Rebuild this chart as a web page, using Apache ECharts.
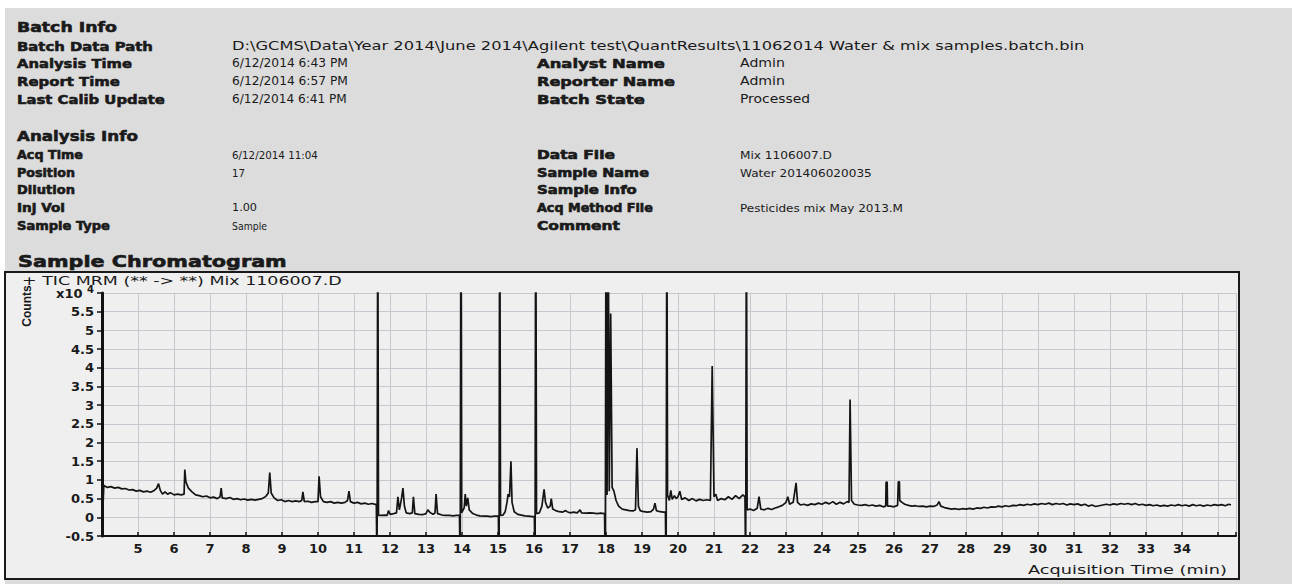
<!DOCTYPE html>
<html>
<head>
<meta charset="utf-8">
<script src="https://cdn.jsdelivr.net/npm/echarts@6/dist/echarts.min.js"></script>
<style>
html,body{margin:0;padding:0;background:#ffffff;}
#chart{width:1292px;height:584px;}
</style>
</head>
<body>
<div id="chart"></div>
<script>
// ---------- Report text ----------
const batchTitle = 'Batch Info';
const batchFieldNames = ['Batch Data Path', 'Analysis Time', 'Report Time', 'Last Calib Update'];
const batchFieldValues = ['D:\\GCMS\\Data\\Year 2014\\June 2014\\Agilent test\\QuantResults\\11062014 Water & mix samples.batch.bin',
  '6/12/2014 6:43 PM', '6/12/2014 6:57 PM', '6/12/2014 6:41 PM'];
const batchFieldNames2 = ['Analyst Name', 'Reporter Name', 'Batch State'];
const batchFieldValues2 = ['Admin', 'Admin', 'Processed'];
const analysisTitle = 'Analysis Info';
const analysisFieldNames = ['Acq Time', 'Position', 'Dilution', 'Inj Vol', 'Sample Type'];
const analysisFieldValues = ['6/12/2014 11:04', '17', '', '1.00', 'Sample'];
const analysisFieldNames2 = ['Data File', 'Sample Name', 'Sample Info', 'Acq Method File', 'Comment'];
const analysisFieldValues2 = ['Mix 1106007.D', 'Water 201406020035', '', 'Pesticides mix May 2013.M', ''];
const chromTitle = 'Sample Chromatogram';
const traceTitle = '+ TIC MRM (** -> **) Mix 1106007.D';
const yAxisName = 'Counts';
const yExponentBase = 'x10';
const yExponent = '4';
const xAxisName = 'Acquisition Time (min)';

// ---------- Chromatogram trace: [time (min), counts (x10^4)] ----------
const segment1 = [[4.00,0.05],[4.02,0.10],[4.05,0.85],[4.15,0.80],[4.25,0.82],[4.35,0.78],[4.45,0.80],[4.55,0.76],
  [4.65,0.77],[4.75,0.73],[4.85,0.74],[4.95,0.70],[5.05,0.72],[5.15,0.68],[5.25,0.70],[5.35,0.67],[5.45,0.72],
  [5.52,0.78],[5.57,0.90],[5.62,0.72],[5.68,0.62],[5.75,0.68],[5.82,0.62],[5.90,0.66],[6.00,0.60],[6.10,0.62],
  [6.20,0.60],[6.28,0.62],[6.30,1.28],[6.33,0.95],[6.40,0.78],[6.50,0.68],[6.60,0.60],[6.70,0.58],[6.80,0.55],
  [6.90,0.57],[7.00,0.52],[7.10,0.54],[7.20,0.50],[7.28,0.55],[7.31,0.78],[7.34,0.52],[7.45,0.50],[7.55,0.53],
  [7.65,0.48],[7.75,0.50],[7.85,0.47],[7.95,0.49],[8.05,0.46],[8.15,0.48],[8.25,0.46],[8.35,0.48],[8.45,0.50],
  [8.55,0.56],[8.62,0.65],[8.66,1.20],[8.70,0.65],[8.78,0.52],[8.88,0.45],[8.98,0.47],[9.08,0.42],[9.18,0.45],
  [9.28,0.42],[9.38,0.44],[9.48,0.42],[9.55,0.45],[9.58,0.68],[9.62,0.42],[9.72,0.43],[9.82,0.40],[9.92,0.42],
  [10.00,0.42],[10.03,1.10],[10.07,0.55],[10.15,0.42],[10.25,0.40],[10.35,0.42],[10.45,0.38],[10.55,0.40],
  [10.65,0.38],[10.75,0.40],[10.82,0.45],[10.86,0.70],[10.90,0.42],[11.00,0.38],[11.10,0.40],[11.20,0.36],
  [11.30,0.38],[11.40,0.35],[11.50,0.37],[11.62,0.34],[11.64,-1.5],[11.66,9.0]];
const segment2 = [[11.68,0.05],[11.75,0.05],[11.85,0.06],[11.92,0.05],[11.96,0.18],[12.00,0.08],[12.10,0.10],
  [12.18,0.12],[12.22,0.55],[12.26,0.20],[12.32,0.50],[12.36,0.78],[12.40,0.30],[12.45,0.12],[12.55,0.10],
  [12.62,0.12],[12.65,0.55],[12.69,0.10],[12.80,0.08],[12.90,0.07],[13.00,0.10],[13.05,0.20],[13.12,0.12],
  [13.20,0.08],[13.25,0.12],[13.28,0.62],[13.32,0.10],[13.45,0.06],[13.55,0.05],[13.65,0.05],[13.75,0.04],
  [13.85,0.05],[13.93,0.05],[13.95,-1.5],[13.97,9.0]];
const segment3 = [[13.99,0.12],[14.06,0.25],[14.09,0.62],[14.12,0.30],[14.16,0.52],[14.20,0.20],[14.30,0.10],
  [14.40,0.06],[14.50,0.04],[14.60,0.03],[14.70,0.03],[14.80,0.02],[14.90,0.03],[15.01,0.03],[15.03,-1.5],[15.05,9.0]];
const segment4 = [[15.07,0.05],[15.14,0.06],[15.20,0.15],[15.25,0.40],[15.28,0.62],[15.32,0.55],[15.36,1.50],
  [15.39,0.40],[15.45,0.15],[15.55,0.08],[15.65,0.06],[15.75,0.04],[15.85,0.03],[15.95,0.02],[16.01,0.02],
  [16.03,-1.5],[16.05,9.0]];
const segment5 = [[16.07,0.10],[16.15,0.12],[16.22,0.30],[16.28,0.75],[16.32,0.40],[16.38,0.25],[16.45,0.30],
  [16.48,0.50],[16.52,0.22],[16.60,0.18],[16.70,0.15],[16.80,0.14],[16.88,0.18],[16.92,0.15],[17.00,0.12],
  [17.10,0.14],[17.20,0.12],[17.28,0.20],[17.32,0.12],[17.45,0.11],[17.55,0.12],[17.65,0.11],[17.75,0.10],
  [17.85,0.11],[17.96,0.10],[17.98,-1.5],[18.00,9.0],[18.03,0.60],[18.06,9.0],[18.09,0.70],[18.13,5.45],
  [18.17,0.80],[18.22,0.70],[18.28,0.45],[18.35,0.30],[18.45,0.22],[18.55,0.20],[18.65,0.18],[18.75,0.17],
  [18.82,0.20],[18.86,1.85],[18.90,0.30],[18.95,0.18],[19.05,0.15],[19.15,0.14],[19.25,0.15],[19.32,0.22],
  [19.36,0.38],[19.40,0.18],[19.50,0.15],[19.60,0.14],[19.65,0.14],[19.67,-1.5],[19.69,9.0]];
const segment6 = [[19.71,0.60],[19.76,0.45],[19.80,0.72],[19.84,0.48],[19.90,0.58],[19.95,0.50],[20.00,0.55],
  [20.05,0.70],[20.10,0.48],[20.20,0.52],[20.30,0.45],[20.40,0.50],[20.50,0.44],[20.60,0.48],[20.70,0.45],
  [20.80,0.47],[20.90,0.45],[20.95,4.05],[21.00,0.55],[21.05,0.62],[21.10,0.45],[21.20,0.50],[21.30,0.47],
  [21.40,0.55],[21.50,0.48],[21.60,0.58],[21.70,0.50],[21.80,0.60],[21.86,0.55],[21.88,-1.5],[21.90,9.0]];
const segment7 = [[21.92,0.20],[22.00,0.22],[22.10,0.18],[22.20,0.24],[22.25,0.55],[22.30,0.22],[22.40,0.20],
  [22.50,0.24],[22.60,0.21],[22.70,0.25],[22.80,0.28],[22.90,0.32],[23.00,0.40],[23.05,0.55],[23.10,0.35],
  [23.20,0.40],[23.28,0.92],[23.32,0.40],[23.40,0.33],[23.50,0.35],[23.60,0.32],[23.70,0.36],[23.80,0.34],
  [23.90,0.38],[24.00,0.35],[24.10,0.40],[24.20,0.36],[24.30,0.42],[24.40,0.35],[24.50,0.40],[24.60,0.36],
  [24.70,0.42],[24.75,0.40],[24.78,3.15],[24.82,0.45],[24.90,0.35],[25.00,0.33],[25.10,0.32],[25.20,0.34],
  [25.30,0.31],[25.40,0.33],[25.50,0.30],[25.60,0.32],[25.70,0.28],[25.77,0.30],[25.78,0.94],[25.81,0.94],
  [25.82,0.30],[25.90,0.30],[26.00,0.28],[26.10,0.32],[26.12,0.95],[26.15,0.95],[26.16,0.45],[26.22,0.40],
  [26.30,0.35],[26.40,0.32],[26.50,0.30],[26.60,0.31],[26.70,0.29],[26.80,0.30],[26.90,0.28],[27.00,0.30],
  [27.10,0.29],[27.20,0.33],[27.25,0.42],[27.30,0.30],[27.40,0.26],[27.50,0.24],[27.60,0.22],[27.70,0.23],
  [27.80,0.21],[27.90,0.23],[28.00,0.22],[28.10,0.24],[28.20,0.22],[28.30,0.25],[28.40,0.24],[28.50,0.27],
  [28.60,0.25],[28.70,0.28],[28.80,0.27],[28.90,0.30],[29.00,0.28],[29.10,0.31],[29.20,0.29],[29.30,0.32],
  [29.40,0.31],[29.50,0.34],[29.60,0.32],[29.70,0.35],[29.80,0.33],[29.90,0.36],[30.00,0.34]];
const segment8 = [[30.10,0.37],[30.20,0.35],[30.30,0.38],[30.40,0.34],[30.50,0.37],[30.60,0.35],[30.70,0.37],
  [30.80,0.33],[30.90,0.36],[31.00,0.34],[31.10,0.36],[31.20,0.32],[31.30,0.35],[31.40,0.30],[31.50,0.33],
  [31.60,0.29],[31.70,0.31],[31.80,0.33],[31.90,0.35],[32.00,0.33],[32.10,0.36],[32.20,0.34],[32.30,0.37],
  [32.40,0.35],[32.50,0.37],[32.60,0.34],[32.70,0.37],[32.80,0.33],[32.90,0.35],[33.00,0.32],[33.10,0.34],
  [33.20,0.31],[33.30,0.33],[33.40,0.30],[33.50,0.32],[33.60,0.30],[33.70,0.33],[33.80,0.31],[33.90,0.34],
  [34.00,0.31],[34.10,0.33],[34.20,0.30],[34.30,0.34],[34.40,0.31],[34.50,0.33],[34.60,0.30],[34.70,0.33],
  [34.80,0.31],[34.90,0.34],[35.00,0.32],[35.10,0.34],[35.20,0.31],[35.30,0.35],[35.36,0.33]];

// ---------- Layout (positions / sizes / styles) ----------
const FONT = '"DejaVu Sans", Verdana, sans-serif';
const INK = '#1a1a1a';
const canvas = document.createElement('canvas');
const ctx = canvas.getContext('2d');
function fitText(txt, left, right, cy, size, weight) {
  if (!txt) return null;
  ctx.font = weight + ' ' + size + 'px "DejaVu Sans"';
  const w = ctx.measureText(txt).width || 1;
  const heavy = weight === 'bold';
  return {
    type: 'text', x: left, y: cy, scaleX: (right - left) / w, silent: true, z: 10,
    style: { text: txt, fontSize: size, fontWeight: weight, fontFamily: FONT, fill: INK,
             stroke: heavy ? INK : null, lineWidth: heavy ? 0.6 : 0,
             align: 'left', verticalAlign: 'middle' }
  };
}
const batchRowsY = [46, 63, 81, 99];
const batchNameRight = [153, 132, 120, 165];
const batchValueRight = [1085, 348, 348, 347];
const batchName2Right = [665, 675, 645];
const batchValue2Right = [785, 785, 810];
const anaRowsY = [155, 173, 190, 208, 226];
const anaNameRight = [83, 75, 75, 65, 110];
const anaValueRight = [318, 245, 0, 257, 267];
const anaName2Right = [615, 649, 637, 653, 620];
const anaValue2Right = [832, 872, 0, 903, 0];

const graphics = [];
graphics.push({ type: 'rect', shape: { x: 5, y: 8, width: 1287, height: 576 }, style: { fill: '#dcdcdc' }, z: 0, silent: true });
graphics.push({ type: 'rect', shape: { x: 5, y: 272, width: 1234, height: 307 }, style: { fill: '#efefef', stroke: '#1a1a1a', lineWidth: 2 }, z: 1, silent: true });

graphics.push(fitText(batchTitle, 17, 117, 27, 14.5, 'bold'));
batchFieldNames.forEach((t, i) => graphics.push(fitText(t, 17, batchNameRight[i], batchRowsY[i], 13, 'bold')));
batchFieldValues.forEach((t, i) => graphics.push(fitText(t, 232, batchValueRight[i], batchRowsY[i], 12, 'normal')));
batchFieldNames2.forEach((t, i) => graphics.push(fitText(t, 537, batchName2Right[i], batchRowsY[i + 1], 13, 'bold')));
batchFieldValues2.forEach((t, i) => graphics.push(fitText(t, 740, batchValue2Right[i], batchRowsY[i + 1], 12, 'normal')));
graphics.push(fitText(analysisTitle, 17, 138, 136, 14.5, 'bold'));
analysisFieldNames.forEach((t, i) => graphics.push(fitText(t, 17, anaNameRight[i], anaRowsY[i], 11.5, 'bold')));
analysisFieldValues.forEach((t, i) => graphics.push(fitText(t, 232, anaValueRight[i], anaRowsY[i], 11, 'normal')));
analysisFieldNames2.forEach((t, i) => graphics.push(fitText(t, 537, anaName2Right[i], anaRowsY[i], 11.5, 'bold')));
analysisFieldValues2.forEach((t, i) => graphics.push(fitText(t, 740, anaValue2Right[i], anaRowsY[i], 11, 'normal')));
graphics.push(fitText(chromTitle, 18, 287, 261, 16, 'bold'));
graphics.push(fitText(traceTitle, 22, 342, 281, 11.5, 'normal'));
graphics.push(fitText(xAxisName, 1028, 1227, 570, 12, 'normal'));
graphics.push({ type: 'text', x: 27, y: 306, rotation: Math.PI / 2, silent: true, z: 10,
  style: { text: yAxisName, fontSize: 12, fontWeight: 'bold', fontFamily: '"Liberation Sans Narrow", "Liberation Sans", sans-serif',
           fill: INK, align: 'center', verticalAlign: 'middle' } });

const trace = [].concat(segment1, segment2, segment3, segment4, segment5, segment6, segment7, segment8);

const chart = echarts.init(document.getElementById('chart'), null, { renderer: 'svg' });
chart.setOption({
  animation: false,
  backgroundColor: '#ffffff',
  grid: { left: 102, right: 56, top: 293, bottom: 48, containLabel: false, z: 2 },
  xAxis: {
    type: 'value', min: 4, max: 35.5, interval: 1, z: 3,
    axisLine: { onZero: false, lineStyle: { color: '#111', width: 2 } },
    axisTick: { show: true, inside: true, length: 4, lineStyle: { color: '#111', width: 1.5 } },
    axisLabel: { margin: 6, color: INK, fontFamily: FONT, fontWeight: 'bold', fontSize: 13,
      formatter: v => (v <= 4 || v >= 35) ? '' : String(v) },
    splitLine: { show: true, lineStyle: { color: '#c6c8d0', width: 1 } }
  },
  yAxis: {
    type: 'value', min: -0.5, max: 6, interval: 0.5, z: 3,
    axisLine: { show: true, lineStyle: { color: '#111', width: 3 } },
    axisTick: { show: true, inside: false, length: 5, lineStyle: { color: '#111', width: 1.5 } },
    axisLabel: { margin: 8, color: INK, fontFamily: FONT, fontWeight: 'bold', fontSize: 13,
      formatter: v => v === 6 ? '{e|' + yExponentBase + '} {s|' + yExponent + '}' : String(v),
      rich: {
        e: { fontFamily: FONT, fontWeight: 'bold', fontSize: 13, color: INK },
        s: { fontFamily: FONT, fontWeight: 'bold', fontSize: 10, color: INK, padding: [0, 0, 8, 0] }
      } },
    splitLine: { show: true, lineStyle: { color: '#c6c8d0', width: 1 } }
  },
  graphic: graphics.filter(Boolean),
  series: [{
    type: 'line', data: trace, symbol: 'none', clip: true, z: 5,
    lineStyle: { color: '#141414', width: 1.7 }
  }]
});
</script>
</body>
</html>
